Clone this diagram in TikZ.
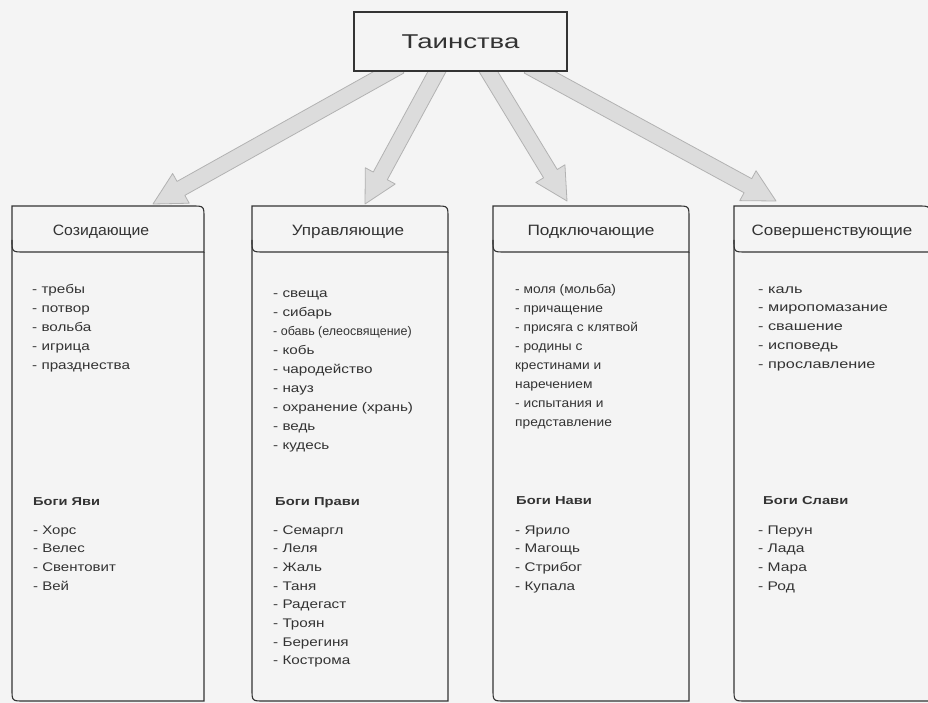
\documentclass[tikz,border=0pt]{standalone}
\usepackage{fontspec}
\usepackage{graphicx}
\setmainfont{Liberation Sans}
\usetikzlibrary{calc}
\definecolor{bg}{HTML}{F4F4F4}
\definecolor{ink}{HTML}{333333}
\definecolor{arrfill}{HTML}{DCDCDC}
\definecolor{arredge}{HTML}{B2B2B2}
\newcommand{\sx}[2][1.25]{\scalebox{#1}[1]{#2}}
\tikzset{
  cardline/.style={draw=ink, line width=1.1pt},
  item/.style={anchor=base west, inner sep=0pt, text=ink, font=\fontsize{12.5}{14}\selectfont},
  godhead/.style={item, font=\fontsize{11.5}{14}\selectfont\bfseries},
  cardhead/.style={anchor=center, inner sep=0pt, text=ink, font=\fontsize{15}{17}\selectfont},
  titlebox/.style={draw=ink, line width=1.1pt, fill=bg, minimum width=213pt, minimum height=59pt, inner sep=0pt, font=\fontsize{20}{24}\selectfont, text=ink},
  blockarrow/.style={fill=arrfill, draw=arredge, line width=0.8pt, line join=round},
}
\newcommand{\blockarr}[2]{%
  \coordinate (hb) at ($(#2)!32pt!(#1)$);
  \path[blockarrow] ($(#1)!8pt!90:(#2)$) -- ($(hb)!8pt!90:(#2)$) -- ($(hb)!17pt!90:(#2)$) -- (#2)
    -- ($(hb)!17pt!-90:(#2)$) -- ($(hb)!8pt!-90:(#2)$) -- ($(#1)!8pt!-90:(#2)$) -- cycle;}
\newcommand{\card}[2]{% left, right
  \draw[cardline] (#1,206) -- (#2-12,206) .. controls (#2,206) .. (#2,218) -- (#2,252) -- (#1+12,252) .. controls (#1,252) .. (#1,240) -- cycle;
  \draw[cardline] (#1,240) -- (#1,689) .. controls (#1,701) .. (#1+12,701) -- (#2,701) -- (#2,252);}
\begin{document}
\begin{tikzpicture}[x=1pt,y=-1pt]
\useasboundingbox (0,0) rectangle (928,703);
\fill[bg] (0,0) rectangle (928,703);
% arrow end points
\coordinate (a1s) at (400,66); \coordinate (a1e) at (153,204);
\coordinate (a2s) at (440,66); \coordinate (a2e) at (365,204);
\coordinate (a3s) at (485,66); \coordinate (a3e) at (567,201);
\coordinate (a4s) at (528,66); \coordinate (a4e) at (776,201);
\blockarr{a1s}{a1e}
\blockarr{a2s}{a2e}
\blockarr{a3s}{a3e}
\blockarr{a4s}{a4e}
\node[titlebox] (title) at (460.5,41.5) {\sx[1.38]{Таинства}};
% cards
\card{12}{204}
\card{252}{448}
\card{493}{689}
\card{734}{930}
\node[cardhead] (h1) at (101,232) {\sx[1.05]{Созидающие}};
\node[cardhead] (h2) at (348,232) {\sx[1.14]{Управляющие}};
\node[cardhead] (h3) at (591,232) {\sx[1.15]{Подключающие}};
\node[cardhead] (h4) at (832,232) {\sx[1.13]{Совершенствующие}};
% lists
\foreach \t [count=\i] in {- требы, - потвор, - вольба, - игрица, - празднества}
  \node[item] (la\i) at (32,{293+19*(\i-1)}) {\sx[1.22]{\t}};
\foreach \t [count=\i] in {- свеща, - сибарь, - обавь (елеосвящение), - кобь, - чародейство, - науз, - охранение (хрань), - ведь, - кудесь}
  \node[item] (lb\i) at (273,{297+19*(\i-1)}) {\sx[\ifnum\i=3 1.0\else 1.22\fi]{\t}};
\foreach \t [count=\i] in {- моля (мольба), - причащение, - присяга с клятвой, - родины с, крестинами и, наречением, - испытания и, представление}
  \node[item] (lc\i) at (515,{293+19*(\i-1)}) {\sx[1.1]{\t}};
\foreach \t [count=\i] in {- каль, - миропомазание, - свашение, - исповедь, - прославление}
  \node[item] (ld\i) at (758,{293+18.8*(\i-1)}) {\sx[1.3]{\t}};
% gods
\node[godhead] (ga) at (33,505) {\sx[1.27]{Боги Яви}};
\node[godhead] (gb) at (275,505) {\sx[1.28]{Боги Прави}};
\node[godhead] (gc) at (516,504) {\sx[1.28]{Боги Нави}};
\node[godhead] (gd) at (763,504) {\sx[1.28]{Боги Слави}};
\foreach \t [count=\i] in {- Хорс, - Велес, - Свентовит, - Вей}
  \node[item] (ma\i) at (33,{534+18.7*(\i-1)}) {\sx[1.2]{\t}};
\foreach \t [count=\i] in {- Семаргл, - Леля, - Жаль, - Таня, - Радегаст, - Троян, - Берегиня, - Кострома}
  \node[item] (mb\i) at (273,{534+18.7*(\i-1)}) {\sx[1.22]{\t}};
\foreach \t [count=\i] in {- Ярило, - Магощь, - Стрибог, - Купала}
  \node[item] (mc\i) at (515,{534+18.7*(\i-1)}) {\sx[1.22]{\t}};
\foreach \t [count=\i] in {- Перун, - Лада, - Мара, - Род}
  \node[item] (md\i) at (758,{534+18.7*(\i-1)}) {\sx[1.25]{\t}};
\end{tikzpicture}
\end{document}
